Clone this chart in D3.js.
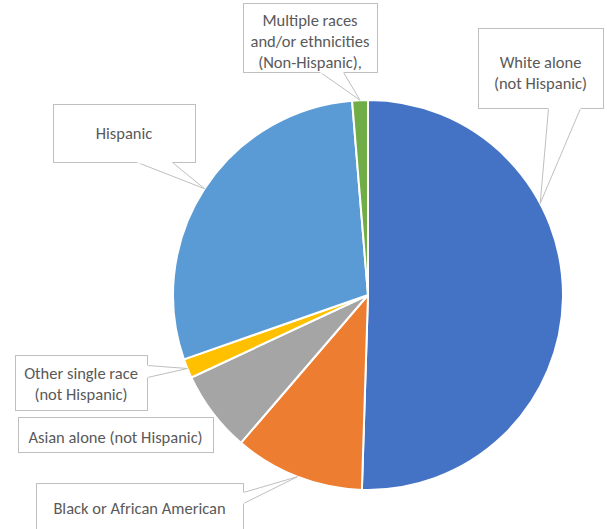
<!DOCTYPE html>
<html><head><meta charset="utf-8">
<script src="https://cdn.jsdelivr.net/npm/d3@7"></script>
<style>body{margin:0;background:#fff}svg{display:block}</style>
</head><body>
<svg id="c" width="607" height="529"></svg>
<script>
const categories = ["White alone (not Hispanic)", "Black or African American", "Asian alone (not Hispanic)", "Other single race (not Hispanic)", "Hispanic", "Multiple races and/or ethnicities (Non-Hispanic),"];
const values = [50.5, 10.8, 6.75, 1.6, 29.05, 1.3];
const colors = ["#4472C4", "#ED7D31", "#A5A5A5", "#FFC000", "#5B9BD5", "#70AD47"];
const labelLines = [["White alone", "(not Hispanic)"], ["Black or African American"], ["Asian alone (not Hispanic)"], ["Other single race", "(not Hispanic)"], ["Hispanic"], ["Multiple races", "and/or ethnicities", "(Non-Hispanic),"]];

const svg = d3.select("#c");
const cx = 368, cy = 295, R = 195;
const pie = d3.pie().sort(null).value(d => d)(values);
const arc = d3.arc().innerRadius(0).outerRadius(R);
const g = svg.append("g").attr("transform", `translate(${cx},${cy})`);
g.selectAll("path").data(pie).join("path")
  .attr("d", arc).attr("fill", (d, i) => colors[i])
  .attr("stroke", "#fff").attr("stroke-width", 2).attr("stroke-linejoin", "round");

function tipAt(angle) { return [cx + R * Math.sin(angle), cy - R * Math.cos(angle)]; }
const mid = d => (d.startAngle + d.endAngle) / 2;

const boxes = [
  {i: 0, x: 478, y: 28, w: 125, h: 80, ty: 73, base: [[548, 108], [580, 108]], angle: 62 * Math.PI / 180},
  {i: 1, x: 36, y: 483, w: 207, h: 60, ty: 508, base: [[243, 492], [243, 503]]},
  {i: 2, x: 18, y: 417, w: 195, h: 35, ty: 437, base: null},
  {i: 3, x: 15, y: 355, w: 132, h: 55, ty: 384, base: [[147, 365], [147, 377]]},
  {i: 4, x: 53, y: 104, w: 142, h: 58, ty: 133, base: [[137, 162], [172, 162]]},
  {i: 5, x: 243, y: 3, w: 134, h: 69, ty: 41, base: [[320, 72], [343, 72]]}
];

const ann = svg.append("g");
boxes.forEach(b => {
  const d = pie[b.i];
  const a = b.angle !== undefined ? b.angle : mid(d);
  const tip = tipAt(a);
  ann.append("rect").attr("x", b.x + 0.5).attr("y", b.y + 0.5).attr("width", b.w).attr("height", b.h)
    .attr("fill", "#fff").attr("stroke", "#BFBFBF").attr("stroke-width", 1);
  if (b.base) {
    ann.append("path").attr("d", `M${b.base[0][0]+0.5},${b.base[0][1]+0.5}L${tip[0]},${tip[1]}L${b.base[1][0]+0.5},${b.base[1][1]+0.5}`)
      .attr("fill", "#fff").attr("stroke", "#BFBFBF").attr("stroke-width", 1);
    ann.append("line").attr("x1", b.base[0][0]+0.5).attr("y1", b.base[0][1]+0.5).attr("x2", b.base[1][0]+0.5).attr("y2", b.base[1][1]+0.5)
      .attr("stroke", "#fff").attr("stroke-width", 2);
  }
  const lines = labelLines[b.i];
  const lh = 21;
  const tcx = b.x + b.w / 2;
  const t = ann.append("text").attr("text-anchor", "middle")
    .attr("font-family", "Carlito, Calibri, 'Liberation Sans', sans-serif").attr("font-size", 16.5).attr("fill", "#595959");
  lines.forEach((l, k) => {
    t.append("tspan").attr("x", tcx).attr("y", b.ty + (k - (lines.length - 1) / 2) * lh).attr("dy", "0.35em").text(l);
  });
});
</script>
</body></html>
